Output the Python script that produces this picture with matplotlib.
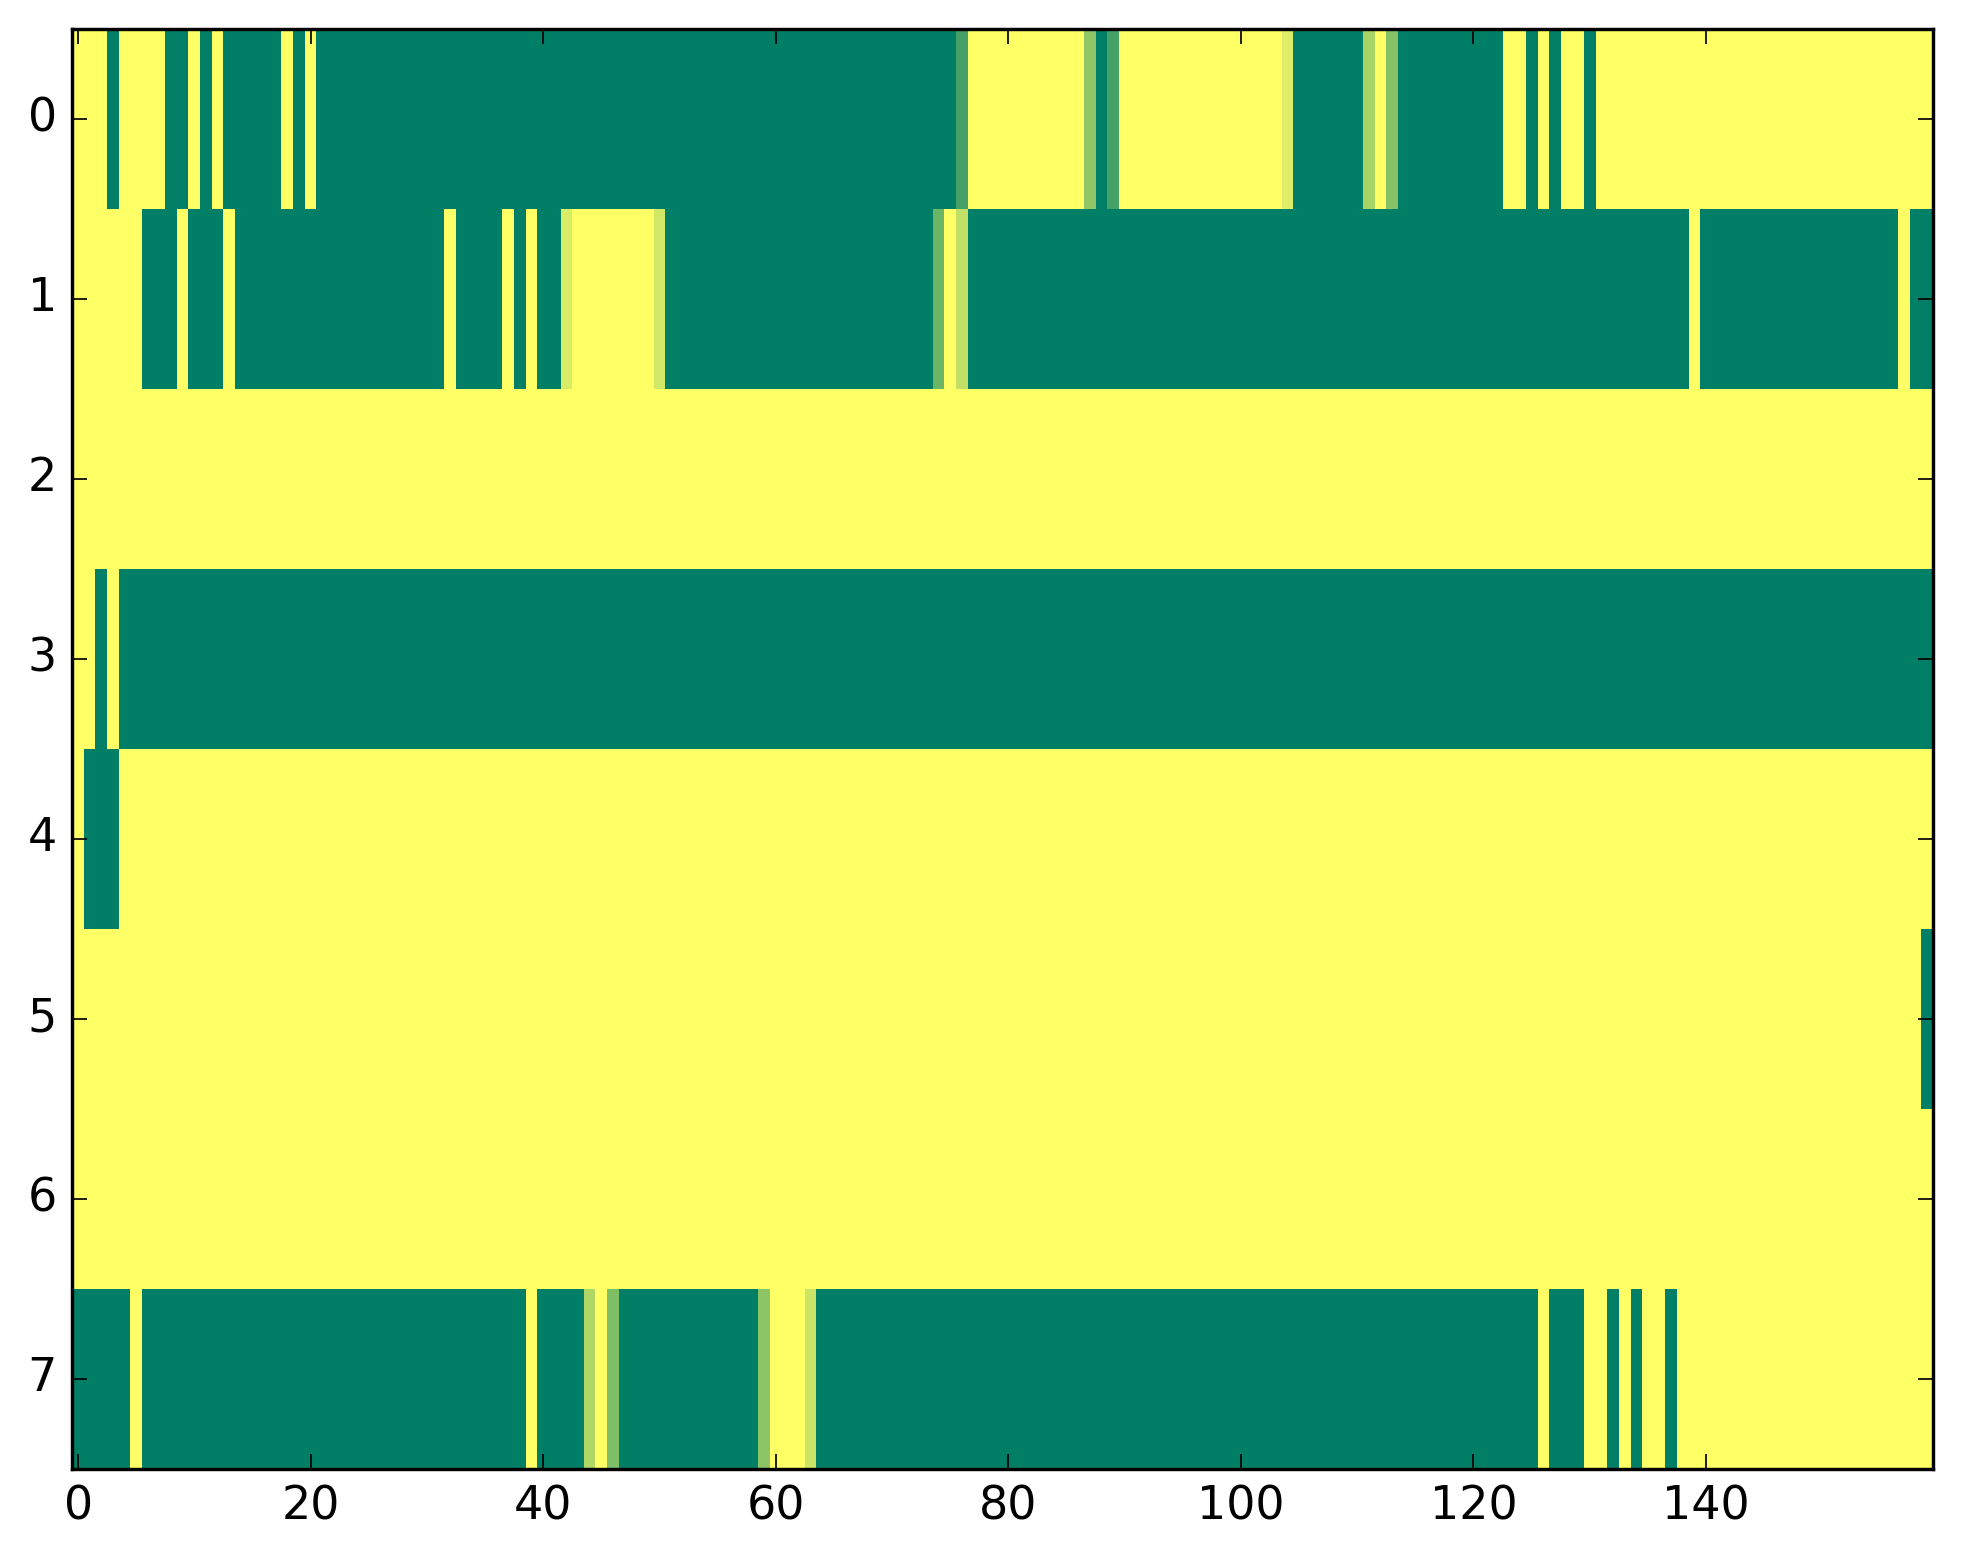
import matplotlib
matplotlib.use('Agg')
import matplotlib.pyplot as plt
import numpy as np

plt.style.use('classic')

xticks = [0, 20, 40, 60, 80, 100, 120, 140]
yticks = [0, 1, 2, 3, 4, 5, 6, 7]

row0 = [1, 1, 1, 0, 1, 1, 1, 1, 0, 0, 1, 0, 1, 0, 0, 0, 0, 0, 1, 0,
        1, 0, 0, 0, 0, 0, 0, 0, 0, 0, 0, 0, 0, 0, 0, 0, 0, 0, 0, 0,
        0, 0, 0, 0, 0, 0, 0, 0, 0, 0, 0, 0, 0, 0, 0, 0, 0, 0, 0, 0,
        0, 0, 0, 0, 0, 0, 0, 0, 0, 0, 0, 0, 0, 0, 0, 0, .27, 1, 1, 1,
        1, 1, 1, 1, 1, 1, 1, .56, 0, .27, 1, 1, 1, 1, 1, 1, 1, 1, 1, 1,
        1, 1, 1, 1, .87, 0, 0, 0, 0, 0, 0, .66, 1, .52, 0, 0, 0, 0, 0, 0,
        0, 0, 0, 1, 1, 0, 1, 0, 1, 1, 0, 1, 1, 1, 1, 1, 1, 1, 1, 1,
        1, 1, 1, 1, 1, 1, 1, 1, 1, 1, 1, 1, 1, 1, 1, 1, 1, 1, 1, 1]

row1 = [1, 1, 1, 1, 1, 1, 0, 0, 0, 1, 0, 0, 0, 1, 0, 0, 0, 0, 0, 0,
        0, 0, 0, 0, 0, 0, 0, 0, 0, 0, 0, 0, 1, 0, 0, 0, 0, 1, 0, 1,
        0, 0, .85, 1, 1, 1, 1, 1, 1, 1, .82, 0, 0, 0, 0, 0, 0, 0, 0, 0,
        0, 0, 0, 0, 0, 0, 0, 0, 0, 0, 0, 0, 0, 0, .42, 1, .76, 0, 0, 0,
        0, 0, 0, 0, 0, 0, 0, 0, 0, 0, 0, 0, 0, 0, 0, 0, 0, 0, 0, 0,
        0, 0, 0, 0, 0, 0, 0, 0, 0, 0, 0, 0, 0, 0, 0, 0, 0, 0, 0, 0,
        0, 0, 0, 0, 0, 0, 0, 0, 0, 0, 0, 0, 0, 0, 0, 0, 0, 0, 0, 1,
        0, 0, 0, 0, 0, 0, 0, 0, 0, 0, 0, 0, 0, 0, 0, 0, 0, 1, 0, 0]

row2 = [1, 1, 1, 1, 1, 1, 1, 1, 1, 1, 1, 1, 1, 1, 1, 1, 1, 1, 1, 1,
        1, 1, 1, 1, 1, 1, 1, 1, 1, 1, 1, 1, 1, 1, 1, 1, 1, 1, 1, 1,
        1, 1, 1, 1, 1, 1, 1, 1, 1, 1, 1, 1, 1, 1, 1, 1, 1, 1, 1, 1,
        1, 1, 1, 1, 1, 1, 1, 1, 1, 1, 1, 1, 1, 1, 1, 1, 1, 1, 1, 1,
        1, 1, 1, 1, 1, 1, 1, 1, 1, 1, 1, 1, 1, 1, 1, 1, 1, 1, 1, 1,
        1, 1, 1, 1, 1, 1, 1, 1, 1, 1, 1, 1, 1, 1, 1, 1, 1, 1, 1, 1,
        1, 1, 1, 1, 1, 1, 1, 1, 1, 1, 1, 1, 1, 1, 1, 1, 1, 1, 1, 1,
        1, 1, 1, 1, 1, 1, 1, 1, 1, 1, 1, 1, 1, 1, 1, 1, 1, 1, 1, 1]

row3 = [1, 1, 0, 1, 0, 0, 0, 0, 0, 0, 0, 0, 0, 0, 0, 0, 0, 0, 0, 0,
        0, 0, 0, 0, 0, 0, 0, 0, 0, 0, 0, 0, 0, 0, 0, 0, 0, 0, 0, 0,
        0, 0, 0, 0, 0, 0, 0, 0, 0, 0, 0, 0, 0, 0, 0, 0, 0, 0, 0, 0,
        0, 0, 0, 0, 0, 0, 0, 0, 0, 0, 0, 0, 0, 0, 0, 0, 0, 0, 0, 0,
        0, 0, 0, 0, 0, 0, 0, 0, 0, 0, 0, 0, 0, 0, 0, 0, 0, 0, 0, 0,
        0, 0, 0, 0, 0, 0, 0, 0, 0, 0, 0, 0, 0, 0, 0, 0, 0, 0, 0, 0,
        0, 0, 0, 0, 0, 0, 0, 0, 0, 0, 0, 0, 0, 0, 0, 0, 0, 0, 0, 0,
        0, 0, 0, 0, 0, 0, 0, 0, 0, 0, 0, 0, 0, 0, 0, 0, 0, 0, 0, 0]

row4 = [1, 0, 0, 0, 1, 1, 1, 1, 1, 1, 1, 1, 1, 1, 1, 1, 1, 1, 1, 1,
        1, 1, 1, 1, 1, 1, 1, 1, 1, 1, 1, 1, 1, 1, 1, 1, 1, 1, 1, 1,
        1, 1, 1, 1, 1, 1, 1, 1, 1, 1, 1, 1, 1, 1, 1, 1, 1, 1, 1, 1,
        1, 1, 1, 1, 1, 1, 1, 1, 1, 1, 1, 1, 1, 1, 1, 1, 1, 1, 1, 1,
        1, 1, 1, 1, 1, 1, 1, 1, 1, 1, 1, 1, 1, 1, 1, 1, 1, 1, 1, 1,
        1, 1, 1, 1, 1, 1, 1, 1, 1, 1, 1, 1, 1, 1, 1, 1, 1, 1, 1, 1,
        1, 1, 1, 1, 1, 1, 1, 1, 1, 1, 1, 1, 1, 1, 1, 1, 1, 1, 1, 1,
        1, 1, 1, 1, 1, 1, 1, 1, 1, 1, 1, 1, 1, 1, 1, 1, 1, 1, 1, 1]

row5 = [1, 1, 1, 1, 1, 1, 1, 1, 1, 1, 1, 1, 1, 1, 1, 1, 1, 1, 1, 1,
        1, 1, 1, 1, 1, 1, 1, 1, 1, 1, 1, 1, 1, 1, 1, 1, 1, 1, 1, 1,
        1, 1, 1, 1, 1, 1, 1, 1, 1, 1, 1, 1, 1, 1, 1, 1, 1, 1, 1, 1,
        1, 1, 1, 1, 1, 1, 1, 1, 1, 1, 1, 1, 1, 1, 1, 1, 1, 1, 1, 1,
        1, 1, 1, 1, 1, 1, 1, 1, 1, 1, 1, 1, 1, 1, 1, 1, 1, 1, 1, 1,
        1, 1, 1, 1, 1, 1, 1, 1, 1, 1, 1, 1, 1, 1, 1, 1, 1, 1, 1, 1,
        1, 1, 1, 1, 1, 1, 1, 1, 1, 1, 1, 1, 1, 1, 1, 1, 1, 1, 1, 1,
        1, 1, 1, 1, 1, 1, 1, 1, 1, 1, 1, 1, 1, 1, 1, 1, 1, 1, 1, 0]

row6 = [1, 1, 1, 1, 1, 1, 1, 1, 1, 1, 1, 1, 1, 1, 1, 1, 1, 1, 1, 1,
        1, 1, 1, 1, 1, 1, 1, 1, 1, 1, 1, 1, 1, 1, 1, 1, 1, 1, 1, 1,
        1, 1, 1, 1, 1, 1, 1, 1, 1, 1, 1, 1, 1, 1, 1, 1, 1, 1, 1, 1,
        1, 1, 1, 1, 1, 1, 1, 1, 1, 1, 1, 1, 1, 1, 1, 1, 1, 1, 1, 1,
        1, 1, 1, 1, 1, 1, 1, 1, 1, 1, 1, 1, 1, 1, 1, 1, 1, 1, 1, 1,
        1, 1, 1, 1, 1, 1, 1, 1, 1, 1, 1, 1, 1, 1, 1, 1, 1, 1, 1, 1,
        1, 1, 1, 1, 1, 1, 1, 1, 1, 1, 1, 1, 1, 1, 1, 1, 1, 1, 1, 1,
        1, 1, 1, 1, 1, 1, 1, 1, 1, 1, 1, 1, 1, 1, 1, 1, 1, 1, 1, 1]

row7 = [0, 0, 0, 0, 0, 1, 0, 0, 0, 0, 0, 0, 0, 0, 0, 0, 0, 0, 0, 0,
        0, 0, 0, 0, 0, 0, 0, 0, 0, 0, 0, 0, 0, 0, 0, 0, 0, 0, 0, 1,
        0, 0, 0, 0, .69, 1, .49, 0, 0, 0, 0, 0, 0, 0, 0, 0, 0, 0, 0, .55,
        1, 1, 1, .80, 0, 0, 0, 0, 0, 0, 0, 0, 0, 0, 0, 0, 0, 0, 0, 0,
        0, 0, 0, 0, 0, 0, 0, 0, 0, 0, 0, 0, 0, 0, 0, 0, 0, 0, 0, 0,
        0, 0, 0, 0, 0, 0, 0, 0, 0, 0, 0, 0, 0, 0, 0, 0, 0, 0, 0, 0,
        0, 0, 0, 0, 0, 0, 1, 0, 0, 0, 1, 1, 0, 1, 0, 1, 1, 0, 1, 1,
        1, 1, 1, 1, 1, 1, 1, 1, 1, 1, 1, 1, 1, 1, 1, 1, 1, 1, 1, 1]

grid = np.array([row0, row1, row2, row3, row4, row5, row6, row7], dtype=float)

W, H, DPI = 1963, 1564, 245
fig = plt.figure(figsize=(W / DPI, H / DPI), dpi=DPI, facecolor='white')
left, right, top, bottom = 72.3, 1932.7, 29.0, 1468.7
ax = fig.add_axes([left / W, (H - bottom) / H, (right - left) / W, (bottom - top) / H])
ax.imshow(grid, cmap='summer', interpolation='nearest', aspect='auto', vmin=0, vmax=1)
ax.set_xticks(xticks)
ax.set_yticks(yticks)
ax.tick_params(labelsize=13.5, length=4.4, width=0.5, pad=4.5)
for s in ax.spines.values():
    s.set_linewidth(1.0)
fig.savefig('out.png', dpi=DPI, facecolor='white')
